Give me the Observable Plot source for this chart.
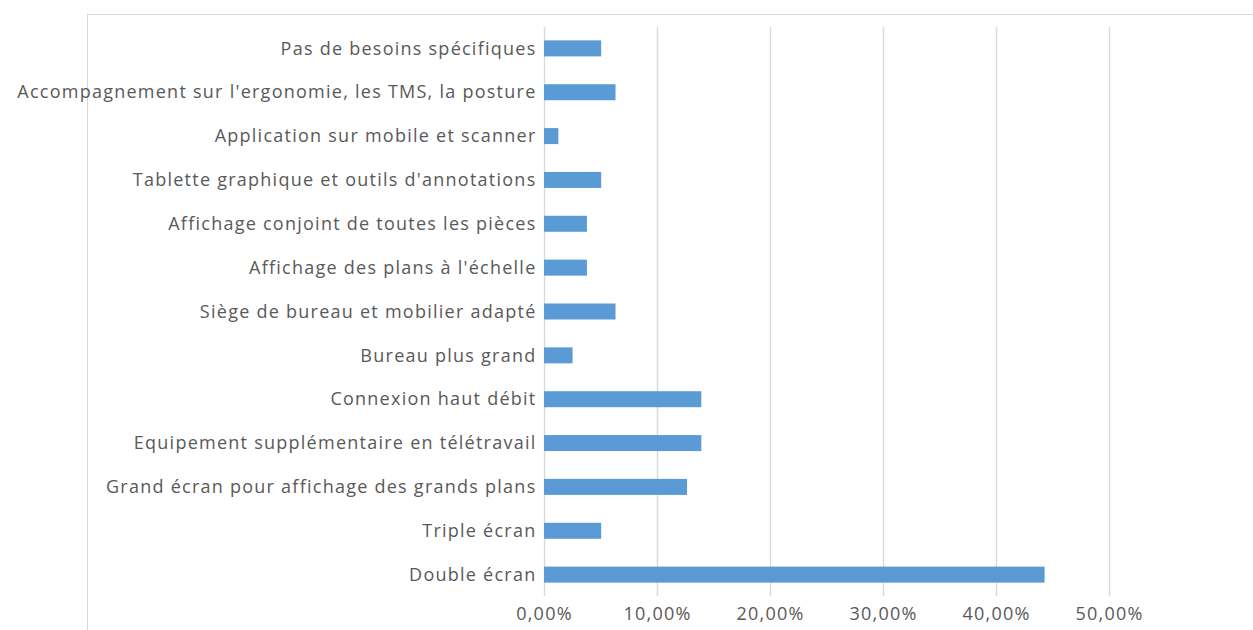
<!DOCTYPE html>
<html>
<head>
<meta charset="utf-8">
<script src="https://cdn.jsdelivr.net/npm/d3@7"></script>
<script src="https://cdn.jsdelivr.net/npm/@observablehq/plot@0.6"></script>
<style>
  html, body { margin: 0; padding: 0; background: #fff; overflow: hidden; }
  #wrap { position: relative; width: 1253px; height: 630px; }
  #border { position: absolute; left: 87px; top: 14px; width: 1200px; height: 700px;
            border-top: 1.5px solid #d9d9d9; border-left: 1.5px solid #d9d9d9; box-sizing: border-box; }
  #chart { position: absolute; left: 0; top: 0; }
  #chart svg { background: transparent; }
  #chart svg text { letter-spacing: 1.25px; }
</style>
</head>
<body>
<div id="wrap"><div id="border"></div><div id="chart"></div></div>
<script>
const categories = [
  "Pas de besoins spécifiques",
  "Accompagnement sur l'ergonomie, les TMS, la posture",
  "Application sur mobile et scanner",
  "Tablette graphique et outils d'annotations",
  "Affichage conjoint de toutes les pièces",
  "Affichage des plans à l'échelle",
  "Siège de bureau et mobilier adapté",
  "Bureau plus grand",
  "Connexion haut débit",
  "Equipement supplémentaire en télétravail",
  "Grand écran pour affichage des grands plans",
  "Triple écran",
  "Double écran"
];
const values = [0.0506, 0.0633, 0.0127, 0.0506, 0.0380, 0.0380, 0.0633, 0.0253, 0.1392, 0.1392, 0.1266, 0.0506, 0.4430];
const xTicks = [0, 0.1, 0.2, 0.3, 0.4, 0.5];

const data = categories.map((c, i) => ({category: c, value: values[i]}));
const fmt = d => (d * 100).toFixed(2).replace(".", ",") + "%";

const chart = Plot.plot({
  width: 1253,
  height: 630,
  marginLeft: 544,
  marginRight: 144,
  marginTop: 27,
  marginBottom: 34,
  style: {fontFamily: "'Open Sans', sans-serif", fontSize: "18px", color: "#595959", background: "transparent"},
  x: {domain: [0, 0.5], axis: null},
  y: {domain: categories, paddingInner: 0.635, paddingOuter: 0.305, round: false, axis: null},
  marks: [
    Plot.gridX(xTicks, {stroke: "#d9d9d9", strokeOpacity: 1, strokeWidth: 1.4}),
    Plot.barX(data, {x: "value", y: "category", fill: "#5b9bd5"}),
    Plot.axisX(xTicks, {tickSize: 0, tickPadding: 11, tickFormat: fmt, fill: "#595959", fontSize: 18, label: null}),
    Plot.axisY({tickSize: 0, tickPadding: 8, fill: "#595959", fontSize: 18, textOverflow: null, label: null})
  ]
});
document.getElementById("chart").appendChild(chart);
</script>
</body>
</html>
